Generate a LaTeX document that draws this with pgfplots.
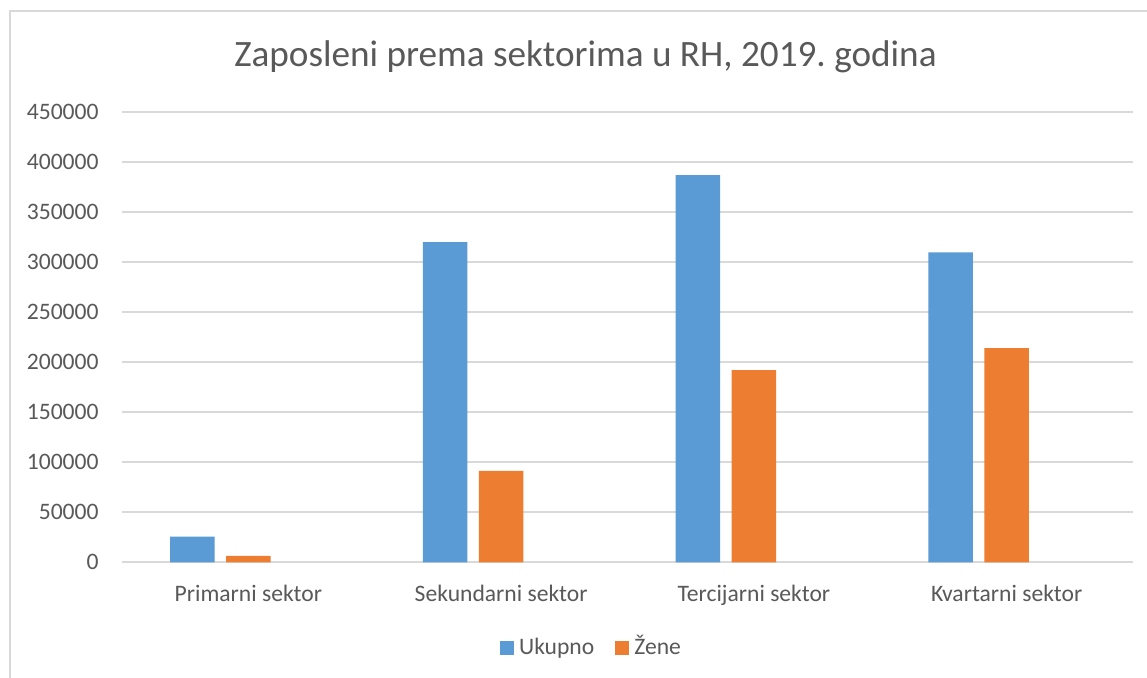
\documentclass[border=0pt]{standalone}
\usepackage{pgfplots}
\pgfplotsset{compat=1.18}
\usepackage{fontspec}
\setmainfont{Carlito}
\frenchspacing
\definecolor{cblue}{HTML}{5B9BD5}
\definecolor{corange}{HTML}{ED7D31}
\definecolor{txt}{HTML}{595959}
\definecolor{gridc}{HTML}{D9D9D9}
\begin{document}
\begin{tikzpicture}
\useasboundingbox[fill=white] (0,0) rectangle (573.5pt,339pt);
\draw[gridc, line width=0.6pt] (5pt,0) -- (5pt,333.5pt) -- (573.5pt,333.5pt);
\node[anchor=base, inner sep=0pt, font=\fontsize{18.6}{22}\selectfont, text=txt] at (292.75pt,305.65pt) {Zaposleni prema sektorima u RH, 2019. godina};
\begin{axis}[
  at={(61pt,57.85pt)}, anchor=south west,
  scale only axis, width=505.5pt, height=225.15pt,
  xmin=-0.5, xmax=3.5, ymin=0, ymax=450000,
  axis line style={draw=none},
  ymajorgrids=true, xmajorgrids=false, grid style={draw=gridc, line width=0.8pt},
  major tick length=0pt,
  ytick={0,50000,...,450000},
  scaled y ticks=false,
  /pgf/number format/.cd, fixed, 1000 sep={}, assume math mode=true, /pgfplots/.cd,
  yticklabel style={anchor=east, inner sep=0pt, xshift=-11.5pt, text=txt, font=\fontsize{11.8}{14}\selectfont},
  xtick={0,1,2,3},
  xticklabels={Primarni sektor, Sekundarni sektor, Tercijarni sektor, Kvartarni sektor},
  xticklabel style={anchor=base, inner sep=0pt, yshift=-19.5pt, text=txt, font=\fontsize{11.8}{14}\selectfont},
  legend style={draw=none, at={(0.4634,-0.1915)}, anchor=center, legend columns=-1,
    font=\fontsize{11.8}{14}\selectfont, text=txt,
    /tikz/every odd column/.append style={column sep=2.5pt},
    /tikz/every even column/.append style={column sep=10.5pt},
    nodes={inner sep=0pt, text height=8pt, text depth=2.5pt}},
  legend image code/.code={\fill[#1, draw=none] (0pt,-3pt) rectangle (7pt,4pt);},
]
\addplot[ybar, bar width=22.25pt, bar shift=-28pt, fill=cblue, draw=none]
  coordinates {(0,25600) (1,320000) (2,387000) (3,309600)};
\addplot[ybar, bar width=22.25pt, bar shift=0pt, fill=corange, draw=none]
  coordinates {(0,6300) (1,91300) (2,192000) (3,214000)};
\legend{Ukupno, Žene}
\end{axis}
\end{tikzpicture}
\end{document}
